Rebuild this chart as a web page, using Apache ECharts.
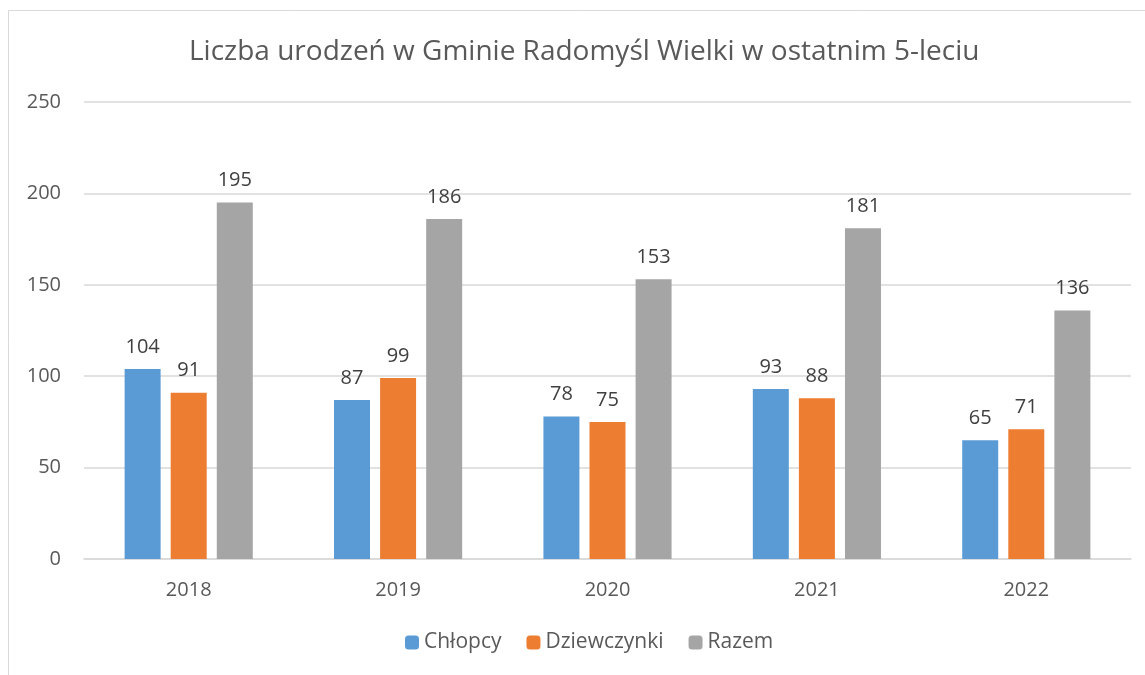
<!DOCTYPE html>
<html>
<head>
<meta charset="utf-8">
<script src="https://cdn.jsdelivr.net/npm/echarts@6/dist/echarts.min.js"></script>
<style>
  html, body { margin: 0; padding: 0; background: #fff; }
  #chart { width: 1145px; height: 675px; }
</style>
</head>
<body>
<div id="chart"></div>
<script>
const years = ['2018', '2019', '2020', '2021', '2022']
const boys = [104, 87, 78, 93, 65]
const girls = [91, 99, 75, 88, 71]
const total = [195, 186, 153, 181, 136]

const font = '"Open Sans", "DejaVu Sans", sans-serif'
const labelStyle = {
  show: true,
  position: 'top',
  distance: 12,
  color: '#404040',
  fontSize: 20,
  fontFamily: font
}

const chart = echarts.init(document.getElementById('chart'))
chart.setOption({
  animation: false,
  textStyle: { fontFamily: font },
  graphic: [{
    type: 'rect',
    shape: { x: 8.5, y: 10.5, width: 1200, height: 700 },
    style: { fill: 'none', stroke: '#d9d9d9', lineWidth: 1 },
    silent: true
  }],
  title: {
    text: 'Liczba urodzeń w Gminie Radomyśl Wielki w ostatnim 5-leciu',
    left: 184,
    top: 33,
    textStyle: { color: '#595959', fontSize: 28, fontWeight: 'normal', fontFamily: font }
  },
  legend: {
    bottom: 17,
    left: 400,
    itemWidth: 14,
    itemHeight: 14,
    itemGap: 25,
    textStyle: { color: '#595959', fontSize: 21, fontFamily: font },
    data: ['Chłopcy', 'Dziewczynki', 'Razem']
  },
  grid: { left: 84, right: 14, top: 102, bottom: 116 },
  xAxis: {
    type: 'category',
    data: years,
    axisLine: { lineStyle: { color: '#d9d9d9', width: 1.5 } },
    axisTick: { show: false },
    axisLabel: { color: '#595959', fontSize: 20, margin: 21 }
  },
  yAxis: {
    type: 'value',
    min: 0,
    max: 250,
    interval: 50,
    axisLine: { show: false },
    axisTick: { show: false },
    splitLine: { lineStyle: { color: '#d9d9d9', width: 1.5 } },
    axisLabel: { color: '#595959', fontSize: 20, margin: 23 }
  },
  series: [
    { name: 'Chłopcy', type: 'bar', data: boys, barWidth: 36, barGap: '28%',
      itemStyle: { color: '#5b9bd5' }, label: labelStyle },
    { name: 'Dziewczynki', type: 'bar', data: girls, barWidth: 36, barGap: '28%',
      itemStyle: { color: '#ed7d31' }, label: labelStyle },
    { name: 'Razem', type: 'bar', data: total, barWidth: 36, barGap: '28%',
      itemStyle: { color: '#a5a5a5' }, label: labelStyle }
  ]
})
</script>
</body>
</html>
